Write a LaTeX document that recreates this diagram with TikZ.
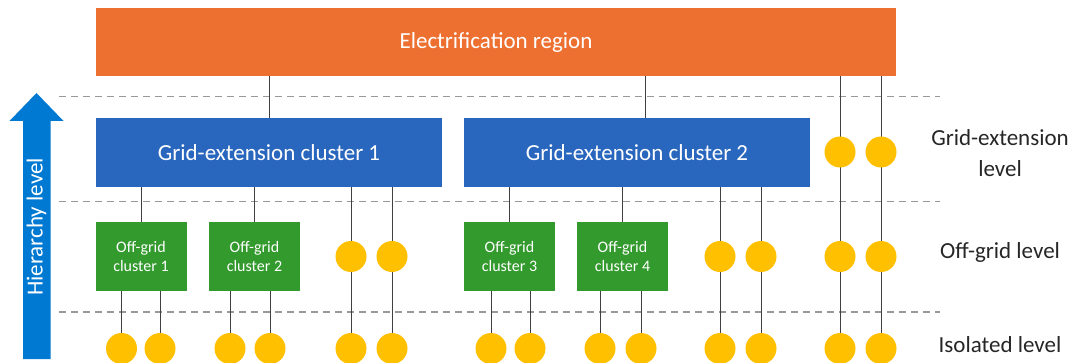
\documentclass[tikz,border=0pt]{standalone}
\usepackage{fontspec}
\setmainfont{Carlito}
\usetikzlibrary{backgrounds}
\definecolor{regionorange}{HTML}{ED7031}
\definecolor{geblue}{HTML}{2966BE}
\definecolor{oggreen}{HTML}{339A2E}
\definecolor{siteyellow}{HTML}{FFC000}
\definecolor{arrowblue}{HTML}{0079D2}

\begin{document}
\begin{tikzpicture}
[x=1pt, y=-1pt,
box/.style = {rectangle, inner sep=0pt, text=white, align=center},
region/.style = {box, fill=regionorange, minimum width=800pt, minimum height=68pt,
                 font=\fontsize{23}{28}\selectfont},
gecluster/.style = {box, fill=geblue, minimum width=346pt, minimum height=69pt,
                    font=\fontsize{23}{28}\selectfont},
ogcluster/.style = {box, fill=oggreen, minimum width=91pt, minimum height=69pt,
                    font=\fontsize{16}{19.5}\selectfont},
site/.style = {circle, fill=siteyellow, minimum size=31pt, inner sep=0pt},
level/.style = {text=black!85, align=center, font=\fontsize{23}{31}\selectfont},
divider/.style = {black!40, line width=1.5pt, dash pattern=on 7pt off 5pt},
link/.style = {draw=black!75, line width=1pt}]
\useasboundingbox (0,0) rectangle (1075,363);

\node[region] (region) at (496,42) {Electrification region};
\node[gecluster] (ge1) at (269,152.5) {Grid-extension cluster 1};
\node[gecluster] (ge2) at (637,152.5) {Grid-extension cluster 2};
\node[ogcluster] (og1) at (141,256.5) {Off-grid\\cluster 1};
\node[ogcluster] (og2) at (254.5,256.5) {Off-grid\\cluster 2};
\node[ogcluster] (og3) at (509.5,256.5) {Off-grid\\cluster 3};
\node[ogcluster] (og4) at (622.5,256.5) {Off-grid\\cluster 4};

% sites at each level
\foreach \x/\n in {840/1,881/2}
  \node[site] (ge-s\n) at (\x,152) {};
\foreach \x/\n in {351/1,392/2,720/3,761/4,840/5,881/6}
  \node[site] (og-s\n) at (\x,256.5) {};
\foreach \x/\n in {121.5/1,160/2,230/3,270/4,351/5,392/6,491/7,530/8,600/9,641/10,720/11,761/12,840/13,881/14}
  \node[site] (is-\n) at (\x,348.5) {};

\node[level] (ge-level) at (1000,153) {Grid-extension\\level};
\node[level] (og-level) at (1000,252) {Off-grid level};
\node[level] (is-level) at (1000,345) {Isolated level};

\fill[arrowblue] (23,359) -- (23,121) -- (9.5,121) -- (36.5,93) -- (63.5,121)
  -- (50.5,121) -- (50.5,359) -- cycle;
\node[rotate=90, text=white, font=\fontsize{23}{28}\selectfont] (hierarchy) at (36.5,227) {Hierarchy level};

\begin{scope}[on background layer]
\foreach \y in {96.5,201.5,312}
  \draw[divider] (59,\y) -- (940,\y);
\draw[link] (ge1.north) -- (ge1.north |- region.south);
\draw[link] ([xshift=8pt]ge2.north) -- ([xshift=8pt]ge2.north |- region.south);
\draw[link] (og1.north) -- (og1.north |- ge1.south);
\draw[link] (og2.north) -- (og2.north |- ge1.south);
\draw[link] (og3.north) -- (og3.north |- ge2.south);
\draw[link] (og4.north) -- (og4.north |- ge2.south);
\foreach \n in {5,6}
  \draw[link] (ge1.south -| is-\n) -- (is-\n);
\foreach \n in {11,12}
  \draw[link] (ge2.south -| is-\n) -- (is-\n);
\foreach \n in {13,14}
  \draw[link] (region.south -| is-\n) -- (is-\n); % through both upper sites
\draw[link] (og1.south -| is-1) -- (is-1);
\draw[link] (og1.south -| is-2) -- (is-2);
\draw[link] (og2.south -| is-3) -- (is-3);
\draw[link] (og2.south -| is-4) -- (is-4);
\draw[link] (og3.south -| is-7) -- (is-7);
\draw[link] (og3.south -| is-8) -- (is-8);
\draw[link] (og4.south -| is-9) -- (is-9);
\draw[link] (og4.south -| is-10) -- (is-10);
\end{scope}
\end{tikzpicture}
\end{document}
